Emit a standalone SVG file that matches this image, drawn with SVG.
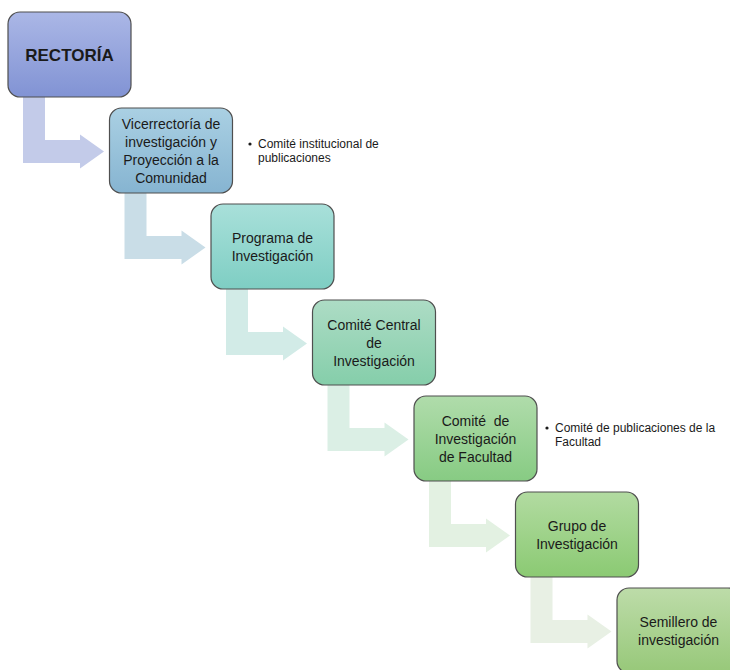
<svg xmlns="http://www.w3.org/2000/svg" xmlns:xlink="http://www.w3.org/1999/xlink" width="730" height="670" viewBox="0 0 730 670">
<style>
.box{stroke:#4f4f4f;stroke-width:1.2}
.t{font-family:"Liberation Sans",Arial,sans-serif;font-size:14px;fill:#1a1a1a;text-anchor:middle}
.b{font-family:"Liberation Sans",Arial,sans-serif;font-size:12px;fill:#1a1a1a}
</style>
<defs>
<path id="arr" d="M15,85 H37 V128 H72 V122.5 L96,139.5 L72,156.5 V151 H15 Z"/>
<linearGradient id="g0" x1="0" y1="0" x2="0" y2="1"><stop offset="0" stop-color="#abb7e6"/><stop offset="1" stop-color="#8193d4"/></linearGradient>
<linearGradient id="g1" x1="0" y1="0" x2="0" y2="1"><stop offset="0" stop-color="#aad0e3"/><stop offset="1" stop-color="#86b4d1"/></linearGradient>
<linearGradient id="g2" x1="0" y1="0" x2="0" y2="1"><stop offset="0" stop-color="#a9e0da"/><stop offset="1" stop-color="#7ecec3"/></linearGradient>
<linearGradient id="g3" x1="0" y1="0" x2="0" y2="1"><stop offset="0" stop-color="#addcc5"/><stop offset="1" stop-color="#85ceaa"/></linearGradient>
<linearGradient id="g4" x1="0" y1="0" x2="0" y2="1"><stop offset="0" stop-color="#b0dcab"/><stop offset="1" stop-color="#87cb83"/></linearGradient>
<linearGradient id="g5" x1="0" y1="0" x2="0" y2="1"><stop offset="0" stop-color="#b2dba1"/><stop offset="1" stop-color="#8bca73"/></linearGradient>
<linearGradient id="g6" x1="0" y1="0" x2="0" y2="1"><stop offset="0" stop-color="#bddca9"/><stop offset="1" stop-color="#97c879"/></linearGradient>
</defs>
<g id="connectors">
<use xlink:href="#arr" href="#arr" transform="translate(8,12)" fill="#c3cbe9"/>
<use xlink:href="#arr" href="#arr" transform="translate(109.5,108)" fill="#c9dde7"/>
<use xlink:href="#arr" href="#arr" transform="translate(211,204)" fill="#d2ebe7"/>
<use xlink:href="#arr" href="#arr" transform="translate(312.5,300)" fill="#dbefe5"/>
<use xlink:href="#arr" href="#arr" transform="translate(414,396)" fill="#e3f1e2"/>
<use xlink:href="#arr" href="#arr" transform="translate(515.5,492)" fill="#e8f0e4"/>
</g>
<g id="rectoria">
<rect class="box" x="8" y="12" width="123" height="85" rx="12" fill="url(#g0)"/>
<text class="t" x="69.5" y="61" style="font-weight:bold;font-size:17px">RECTORÍA</text>
</g>
<g id="vicerrectoria">
<rect class="box" x="109.5" y="108" width="123" height="85" rx="12" fill="url(#g1)"/>
<text class="t" x="171" y="129">Vicerrectoría de</text>
<text class="t" x="171" y="147">investigación y</text>
<text class="t" x="171" y="165">Proyección a la</text>
<text class="t" x="171" y="183">Comunidad</text>
</g>
<g id="nota-vicerrectoria">
<circle cx="250" cy="144" r="1.6" fill="#1a1a1a"/>
<text class="b" x="258" y="148">Comité institucional de</text>
<text class="b" x="258" y="162">publicaciones</text>
</g>
<g id="programa">
<rect class="box" x="211" y="204" width="123" height="85" rx="12" fill="url(#g2)"/>
<text class="t" x="272.5" y="243">Programa de</text>
<text class="t" x="272.5" y="261">Investigación</text>
</g>
<g id="comite-central">
<rect class="box" x="312.5" y="300" width="123" height="85" rx="12" fill="url(#g3)"/>
<text class="t" x="374" y="330">Comité Central</text>
<text class="t" x="374" y="348">de</text>
<text class="t" x="374" y="366">Investigación</text>
</g>
<g id="comite-facultad">
<rect class="box" x="414" y="396" width="123" height="85" rx="12" fill="url(#g4)"/>
<text class="t" x="475.5" y="426" style="white-space:pre" xml:space="preserve">Comité  de</text>
<text class="t" x="475.5" y="444">Investigación</text>
<text class="t" x="475.5" y="462">de Facultad</text>
</g>
<g id="nota-facultad">
<circle cx="547" cy="428" r="1.6" fill="#1a1a1a"/>
<text class="b" x="555" y="432">Comité de publicaciones de la</text>
<text class="b" x="555" y="446">Facultad</text>
</g>
<g id="grupo">
<rect class="box" x="515.5" y="492" width="123" height="85" rx="12" fill="url(#g5)"/>
<text class="t" x="577" y="531">Grupo de</text>
<text class="t" x="577" y="549">Investigación</text>
</g>
<g id="semillero">
<rect class="box" x="617" y="588" width="123" height="85" rx="12" fill="url(#g6)"/>
<text class="t" x="678.5" y="627">Semillero de</text>
<text class="t" x="678.5" y="645">investigación</text>
</g>
</svg>
